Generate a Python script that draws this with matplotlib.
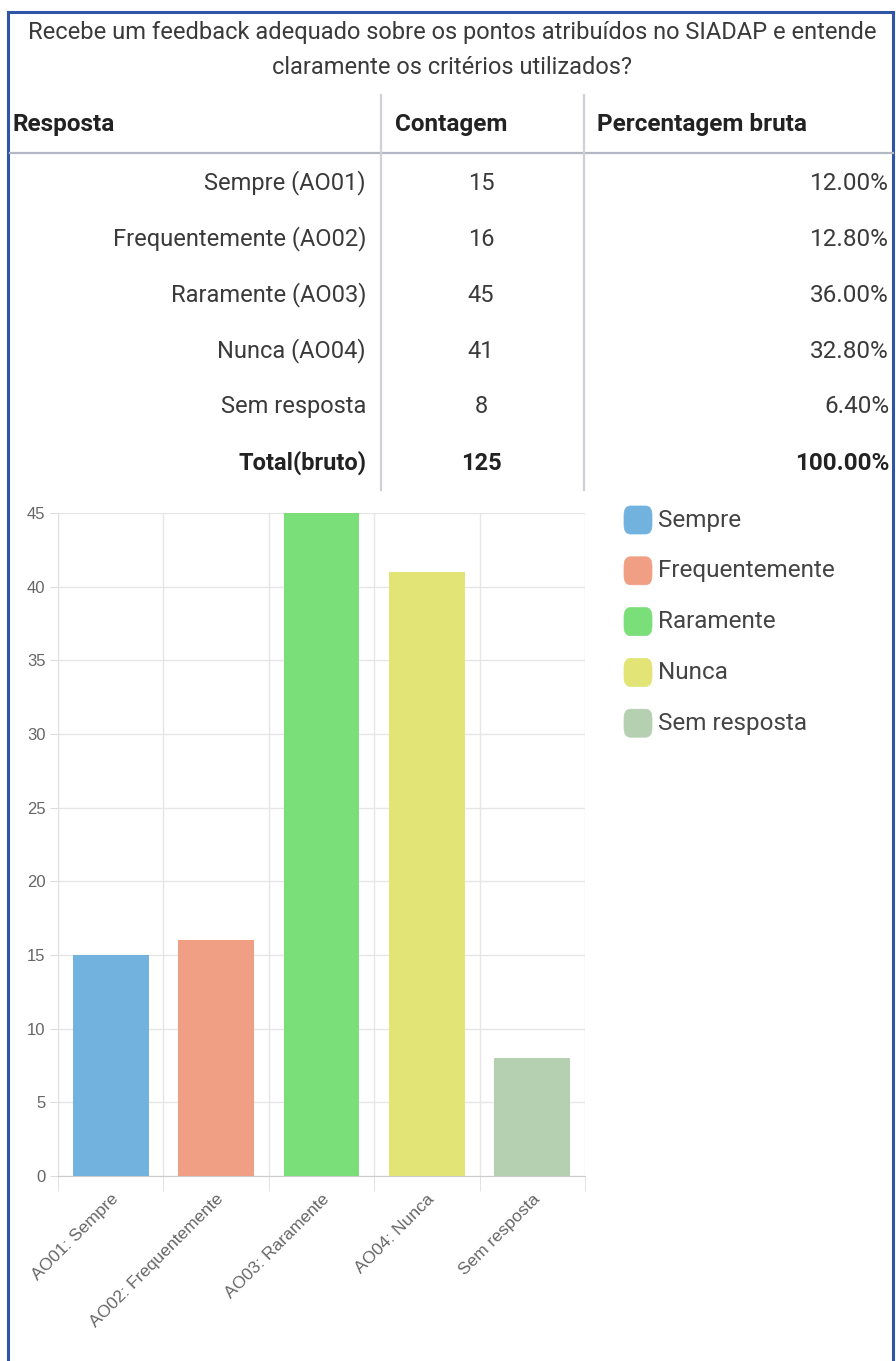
import matplotlib
matplotlib.use("Agg")
import matplotlib.pyplot as plt
from matplotlib.lines import Line2D
from matplotlib.patches import FancyBboxPatch

W, H = 896, 1361

titulo = ["Recebe um feedback adequado sobre os pontos atribuídos no SIADAP e entende",
          "claramente os critérios utilizados?"]
cabecalho = ["Resposta", "Contagem", "Percentagem bruta"]
respostas = ["Sempre (AO01)", "Frequentemente (AO02)", "Raramente (AO03)", "Nunca (AO04)", "Sem resposta"]
contagens = [15, 16, 45, 41, 8]
percentagens = ["12.00%", "12.80%", "36.00%", "32.80%", "6.40%"]
total_label = "Total(bruto)"
total_contagem = 125
total_pct = "100.00%"

categorias = ["AO01: Sempre", "AO02: Frequentemente", "AO03: Raramente", "AO04: Nunca", "Sem resposta"]
legenda = ["Sempre", "Frequentemente", "Raramente", "Nunca", "Sem resposta"]
cores = ["#71b2de", "#f09f85", "#7adf78", "#e2e475", "#b5d0b1"]
yticks = [0, 5, 10, 15, 20, 25, 30, 35, 40, 45]


def fx(x):
    return x / W


def fy(y):
    return 1 - y / H


fig = plt.figure(figsize=(W / 100, H / 100), dpi=100)
fig.patch.set_facecolor("white")

fonte = ["Roboto", "DejaVu Sans"]
txt = "#3a3a3a"
negrito = "#222222"

# moldura azul
borda = "#2f56a6"
for xs, ys in [([8, 8], [12, H]), ([8, 893], [12, 12]), ([893, 893], [12, H])]:
    fig.add_artist(Line2D([fx(v) for v in xs], [fy(v) for v in ys], color=borda, lw=2.2))

# titulo
for i, linha in enumerate(titulo):
    fig.text(fx(452), fy(33 + 35 * i), linha, ha="center", va="center",
             fontsize=17, color=txt, family=fonte)

# cabecalho
for xh, h in zip([12, 395, 597], cabecalho):
    fig.text(fx(xh), fy(125), h, ha="left", va="center", fontsize=17.5,
             fontweight="bold", color=negrito, family=fonte)

fig.add_artist(Line2D([fx(10), fx(893)], [fy(153), fy(153)], color="#b4b8c4", lw=1.6))
for xv in [381, 584]:
    fig.add_artist(Line2D([fx(xv), fx(xv)], [fy(95), fy(490)], color="#cfd0d8", lw=1.6))

# linhas da tabela
for i, (r, c, p) in enumerate(zip(respostas, contagens, percentagens)):
    y = 183 + 56 * i
    fig.text(fx(366), fy(y), r, ha="right", va="center", fontsize=17, color=txt, family=fonte)
    fig.text(fx(481), fy(y), str(c), ha="center", va="center", fontsize=17, color=txt, family=fonte)
    fig.text(fx(889), fy(y), p, ha="right", va="center", fontsize=17.5, color=txt, family=fonte)

yt = 183 + 56 * 5
fig.text(fx(366), fy(yt), total_label, ha="right", va="center", fontsize=17,
         fontweight="bold", color=negrito, family=fonte)
fig.text(fx(481), fy(yt), str(total_contagem), ha="center", va="center", fontsize=17,
         fontweight="bold", color=negrito, family=fonte)
fig.text(fx(889), fy(yt), total_pct, ha="right", va="center", fontsize=17.5,
         fontweight="bold", color=negrito, family=fonte)

# grafico de barras
ax = fig.add_axes([fx(58), fy(1176), (585 - 58) / W, (1176 - 513) / H])
x = list(range(len(contagens)))
ax.bar(x, contagens, width=0.72, color=cores, zorder=3)
ax.set_xlim(-0.5, len(contagens) - 0.5)
ax.set_ylim(0, 45)
ax.set_yticks(yticks)
ax.set_yticklabels([str(v) for v in yticks], family="Liberation Sans", fontsize=12, color="#666666")
ax.tick_params(axis="y", length=6, color="#dddddd", pad=3)
ax.yaxis.grid(True, color="#e6e6e6", lw=1, zorder=0)

ax.set_xticks(x)
ax.set_xticklabels(categorias, rotation=45, ha="right", rotation_mode="anchor",
                   family="Liberation Sans", fontsize=12.5, color="#666666")
ax.tick_params(axis="x", length=0, pad=11)
ax.set_xticks([v - 0.5 for v in x] + [len(x) - 0.5], minor=True)
ax.tick_params(axis="x", which="minor", length=11, color="#dddddd")
ax.xaxis.grid(True, which="minor", color="#e6e6e6", lw=1, zorder=0)

for s in ["top", "right"]:
    ax.spines[s].set_visible(False)
ax.spines["left"].set_color("#e0e0e0")
ax.spines["bottom"].set_color("#cccccc")

# legenda
for i, (nome, cor) in enumerate(zip(legenda, cores)):
    yc = 520 + 50.8 * i
    fig.add_artist(FancyBboxPatch((fx(624), fy(yc + 14)), fx(28), 28 / H,
                                  boxstyle="round,pad=0,rounding_size=0.007",
                                  facecolor=cor, edgecolor=cor, lw=0.5,
                                  transform=fig.transFigure))
    fig.text(fx(658), fy(yc), nome, ha="left", va="center", fontsize=17.5,
             color="#444444", family=fonte)

fig.savefig("out.png", dpi=100)
